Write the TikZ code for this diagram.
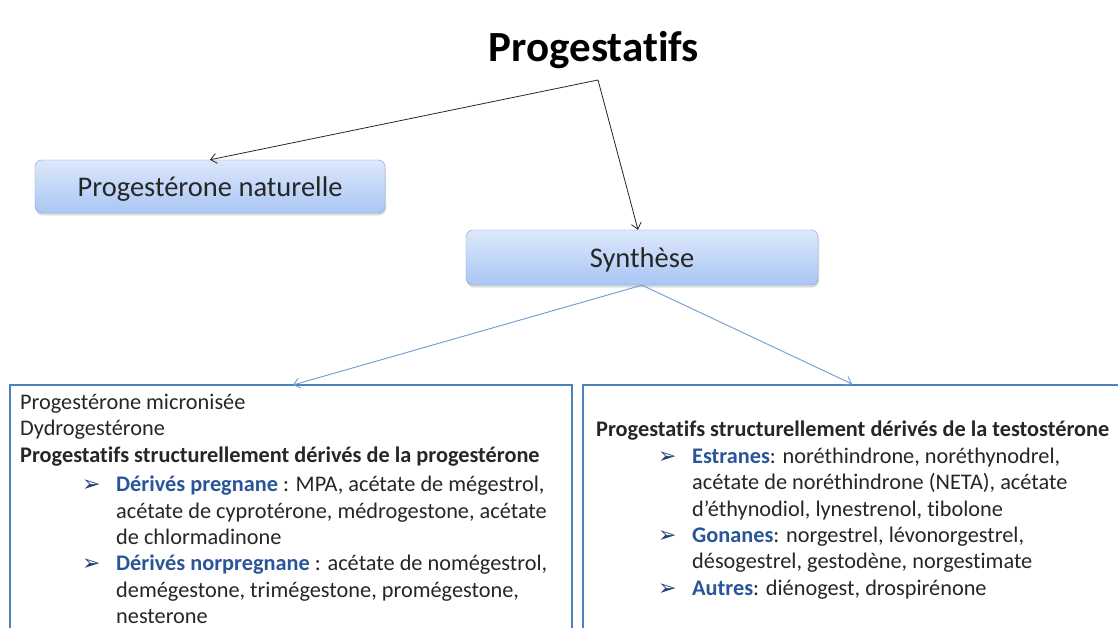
\documentclass[tikz,border=0pt]{standalone}
\usepackage{fontspec}
\setmainfont{Carlito}[RawFeature={-liga}]
\newfontfamily\symb{DejaVu Sans}
\usetikzlibrary{arrows.meta,shadows}
\definecolor{boxtop}{HTML}{DDE8FB}
\definecolor{boxbot}{HTML}{A9C6F4}
\definecolor{boxline}{HTML}{7CA2DA}
\definecolor{frameblue}{HTML}{4F81BD}
\definecolor{linkblue}{HTML}{6E9BD2}
\definecolor{titleblue}{HTML}{2A5699}
\definecolor{pucebleu}{HTML}{243F73}
\definecolor{txt}{HTML}{262626}
\newcommand{\puce}[1]{\hspace*{62pt}\makebox[34pt][l]{\color{pucebleu}\symb\fontsize{22}{22}\selectfont ➢}{\bfseries\color{titleblue}#1}}
\newcommand{\suite}{\hspace*{96pt}}
\tikzset{
  boite/.style={rounded corners=7pt,draw=boxline,top color=boxtop,bottom color=boxbot,
    text=txt,font=\fontsize{28.5}{28.5}\selectfont,text depth=0pt,text height=21pt,
    drop shadow={opacity=0.3,shadow xshift=1pt,shadow yshift=-2.5pt}},
  cadre/.style={draw=frameblue,line width=1.6pt},
  liste/.style={anchor=north west,inner sep=0pt,align=left,text=txt,
    font=\fontsize{22.3}{26.4}\selectfont}
}
\begin{document}
\begin{tikzpicture}[x=1pt,y=1pt,>={Straight Barb[length=6pt,width=10pt]}]
  \useasboundingbox (0,0) rectangle (1118,628);
  \clip (0,0) rectangle (1118,628);
  \fill[white] (0,0) rectangle (1118,628);

  \node[font=\bfseries\fontsize{43}{43}\selectfont] (titre) at (594,578) {Progestatifs};
  \coordinate (fourche) at (598,548);

  \node[boite,minimum width=350pt,minimum height=53pt] (naturelle) at (210,441.5) {Progestérone naturelle};
  \node[boite,minimum width=352pt,minimum height=55pt] (synthese) at (642,370.5) {Synthèse};

  \draw[->,line width=0.8pt,txt] (fourche) -- (naturelle.north);
  \draw[->,line width=0.8pt,txt] (fourche) -- ([xshift=-4pt]synthese.north);

  \draw[cadre] (10,-20) -- (10,243) -- (572,243) -- (572,-20);
  \draw[cadre] (583,-20) -- (583,243) -- (1130,243);
  \coordinate (pointeG) at (293,243);
  \coordinate (pointeD) at (852,244);
  \draw[->,linkblue,line width=0.9pt] (synthese.south) -- (pointeG);
  \draw[->,linkblue,line width=0.9pt] (synthese.south) -- (pointeD);

  \node[liste] (gauche) at (20,234) {Progestérone micronisée\\
    Dydrogestérone\\
    {\bfseries Progestatifs structurellement dérivés de la progestérone}\\[3pt]
    \puce{Dérivés pregnane} : MPA, acétate de mégestrol,\\
    \suite acétate de cyprotérone, médrogestone, acétate\\
    \suite de chlormadinone\\
    \puce{Dérivés norpregnane} : acétate de nomégestrol,\\
    \suite demégestone, trimégestone, promégestone,\\
    \suite nesterone};

  \node[liste] (droite) at (596,207) {{\bfseries Progestatifs structurellement dérivés de la testostérone}\\
    \puce{Estranes}: noréthindrone, noréthynodrel,\\
    \suite acétate de noréthindrone (NETA), acétate\\
    \suite d’éthynodiol, lynestrenol, tibolone\\
    \puce{Gonanes}: norgestrel, lévonorgestrel,\\
    \suite désogestrel, gestodène, norgestimate\\
    \puce{Autres}: diénogest, drospirénone};
\end{tikzpicture}
\end{document}
